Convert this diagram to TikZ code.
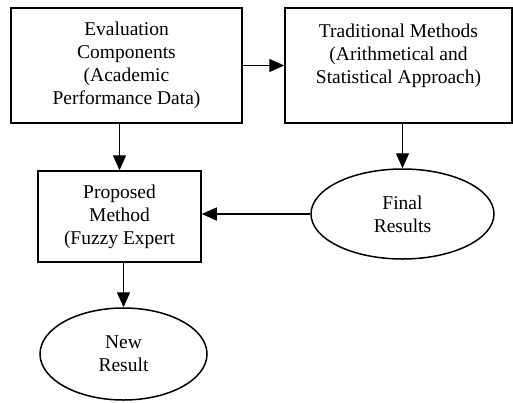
\documentclass[tikz,border=0pt]{standalone}
\usepackage{fontspec}
\setmainfont{Liberation Serif}
\usetikzlibrary{arrows.meta,shapes.geometric}
\begin{document}
\begin{tikzpicture}[x=1pt,y=-1pt,
  box/.style={draw, line width=1.5pt, align=center, inner sep=0pt, font=\fontsize{19.5}{23}\selectfont},
  oval/.style={box, ellipse},
  arr/.style={line width=1.3pt, -{Triangle[length=15pt,width=13pt]}}]
\useasboundingbox (0,0) rectangle (513,402);
%%%% boxes
\node[box, minimum width=231pt, minimum height=115pt] (eval) at (126.5,65.5)
  {Evaluation\\Components\\(Academic\\Performance Data)};
\node[box, minimum width=227pt, minimum height=115pt] (trad) at (398.5,65.5)
  {Traditional Methods\\(Arithmetical and\\Statistical Approach)\\~};
\node[box, minimum width=163pt, minimum height=91pt] (prop) at (119.5,216.5)
  {Proposed\\Method\\(Fuzzy Expert};
%%%% ellipses
\node[oval, minimum width=183pt, minimum height=90pt] (final) at (402.5,214)
  {Final\\Results};
\node[oval, minimum width=167pt, minimum height=92pt] (new) at (123.5,354)
  {New\\Result};
%%%% arrows
\draw[arr] (eval) -- (trad);
\draw[arr] (prop.north |- eval.south) -- (prop.north);
\draw[arr] (final.north |- trad.south) -- (final.north);
\draw[arr] (final.west) -- (prop.east |- final.west);
\draw[arr] (new.north |- prop.south) -- (new.north);
\end{tikzpicture}
\end{document}
